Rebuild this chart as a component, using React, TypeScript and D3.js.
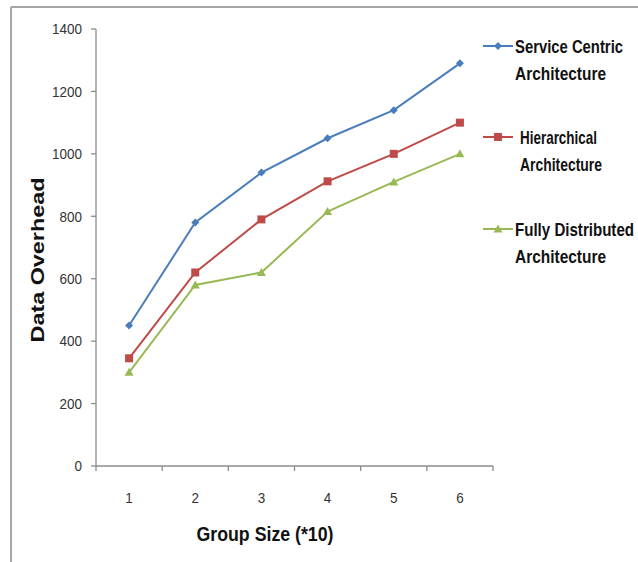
import React from "react";
import * as d3 from "d3";

const categories = ["1", "2", "3", "4", "5", "6"];
const serviceCentric = [450, 780, 940, 1050, 1140, 1290];
const hierarchical = [345, 620, 790, 912, 1000, 1100];
const fullyDistributed = [300, 580, 620, 815, 910, 1000];
const yTicks = [0, 200, 400, 600, 800, 1000, 1200, 1400];
const seriesNames = [
  ["Service Centric", "Architecture"],
  ["Hierarchical", "Architecture"],
  ["Fully Distributed", "Architecture"],
];
const legendWidths = [
  [108, 91],
  [77, 82],
  [119, 91],
];

const W = 638;
const H = 562;
const left = 96;
const right = 493;
const top = 29;
const bottom = 466;

const colors = ["#4A7EBB", "#BE4B48", "#98B954"];
const sans = "'Liberation Sans', Arial, sans-serif";

function Marker({ kind, x, y, color }: { kind: number; x: number; y: number; color: string }) {
  if (kind === 0) {
    const s = 4;
    return <path d={`M${x},${y - s}L${x + s},${y}L${x},${y + s}L${x - s},${y}Z`} fill={color} />;
  }
  if (kind === 1) {
    return <rect x={x - 4} y={y - 4} width={8} height={8} fill={color} />;
  }
  return <path d={`M${x},${y - 4.5}L${x + 4.5},${y + 3.5}L${x - 4.5},${y + 3.5}Z`} fill={color} />;
}

export default function App() {
  const x = d3.scaleBand<string>().domain(categories).range([left, right]);
  const y = d3.scaleLinear().domain([0, 1400]).range([bottom, top]);
  const series = [serviceCentric, hierarchical, fullyDistributed];
  const line = d3
    .line<number>()
    .x((_, i) => (x(categories[i]) as number) + x.bandwidth() / 2)
    .y((d) => y(d));

  const boundaries = categories.map((c) => x(c) as number).concat([right]);
  const legendY = [46, 137, 229];
  const legendTextX = [515, 520, 515];

  return (
    <svg
      width={W}
      height={H}
      style={{ position: "absolute", left: 0, top: 0, background: "#fff" }}
    >
      {/* outer frame */}
      <line x1={11} y1={7} x2={W} y2={7} stroke="#a6a6a6" strokeWidth={2} />
      <line x1={11} y1={7} x2={11} y2={H} stroke="#a6a6a6" strokeWidth={2} />

      {/* y axis */}
      <line x1={left} y1={top} x2={left} y2={bottom} stroke="#8c8c8c" strokeWidth={1.3} />
      {yTicks.map((t) => (
        <g key={t}>
          <line x1={left - 5} x2={left} y1={y(t)} y2={y(t)} stroke="#8c8c8c" strokeWidth={1.3} />
          <text
            x={left - 14}
            y={y(t)}
            dy="0.35em"
            textAnchor="end"
            fontFamily={sans}
            fontSize={15}
            textLength={String(t).length * 7.5}
            lengthAdjust="spacingAndGlyphs"
            fill="#333"
          >
            {t}
          </text>
        </g>
      ))}

      {/* x axis */}
      <line x1={left} y1={bottom} x2={right} y2={bottom} stroke="#8c8c8c" strokeWidth={1.3} />
      {boundaries.map((b, i) => (
        <line key={i} x1={b} x2={b} y1={bottom} y2={bottom + 5} stroke="#8c8c8c" strokeWidth={1.3} />
      ))}
      {categories.map((c) => (
        <text
          key={c}
          x={(x(c) as number) + x.bandwidth() / 2}
          y={498}
          dy="0.35em"
          textAnchor="middle"
          fontFamily={sans}
          fontSize={15}
          textLength={7.5}
          lengthAdjust="spacingAndGlyphs"
          fill="#333"
        >
          {c}
        </text>
      ))}

      {/* axis titles */}
      <text
        x={265}
        y={534}
        dy="0.35em"
        textAnchor="middle"
        fontFamily={sans}
        fontWeight="bold"
        fontSize={21}
        textLength={137}
        lengthAdjust="spacingAndGlyphs"
        fill="#111"
      >
        Group Size (*10)
      </text>
      <text
        transform={`translate(37,260) rotate(-90)`}
        dy="0.35em"
        textAnchor="middle"
        fontFamily={sans}
        fontWeight="bold"
        fontSize={19}
        textLength={165}
        lengthAdjust="spacingAndGlyphs"
        fill="#111"
      >
        Data Overhead
      </text>

      {/* series */}
      {series.map((s, k) => (
        <g key={k}>
          <path d={line(s) as string} fill="none" stroke={colors[k]} strokeWidth={2} />
          {s.map((v, i) => (
            <Marker
              key={i}
              kind={k}
              x={(x(categories[i]) as number) + x.bandwidth() / 2}
              y={y(v)}
              color={colors[k]}
            />
          ))}
        </g>
      ))}

      {/* legend */}
      {seriesNames.map((names, k) => (
        <g key={k}>
          <line x1={483} x2={513} y1={legendY[k]} y2={legendY[k]} stroke={colors[k]} strokeWidth={2} />
          <Marker kind={k} x={498} y={legendY[k]} color={colors[k]} />
          {names.map((n, j) => (
            <text
              key={j}
              x={legendTextX[k]}
              y={legendY[k] + j * 27}
              dy="0.35em"
              fontFamily={sans}
              fontWeight="bold"
              fontSize={19}
              textLength={legendWidths[k][j]}
              lengthAdjust="spacingAndGlyphs"
              fill="#111"
            >
              {n}
            </text>
          ))}
        </g>
      ))}
    </svg>
  );
}
